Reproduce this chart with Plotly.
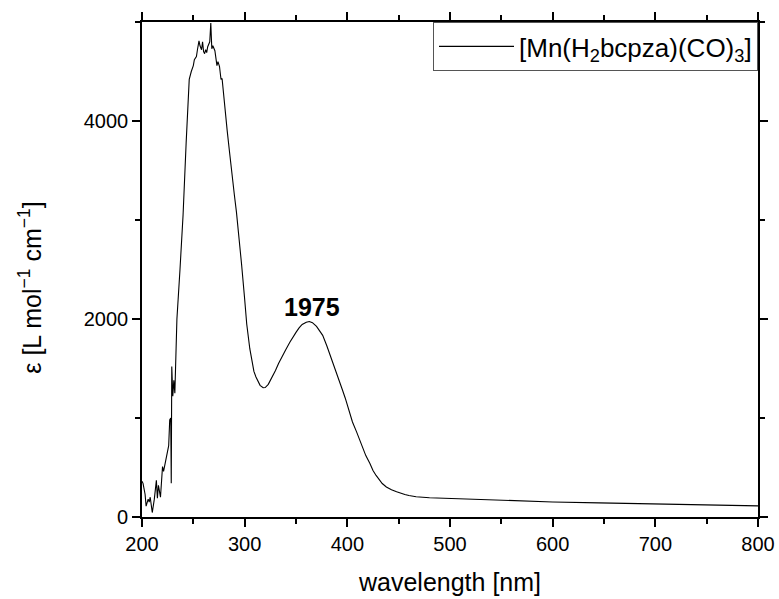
import plotly.graph_objects as go

wavelength = [200, 201, 203, 204, 206, 207, 208, 210, 212, 214, 215, 216, 218, 220, 221, 223, 224, 226, 227, 228,
              228.5, 229, 230, 231, 232, 234, 237, 240, 243, 246, 248, 250, 251, 253, 254, 255.5, 256.5, 258, 259,
              260, 261, 262, 263, 264, 266, 267, 268, 269, 271, 272, 273, 274, 275.5, 276.5, 277, 278, 280, 283,
              285, 287, 290, 292, 295, 297, 300, 302, 305, 307, 309, 311, 313, 315, 318, 320, 323, 327, 330, 333,
              336, 340, 344, 347, 350, 353, 356, 360, 363, 366, 370, 373, 376, 380, 385, 388, 392, 395, 398, 402,
              405, 409, 412, 415, 418, 422, 425, 428, 431, 434, 438, 443, 448, 452, 456, 460, 467, 480, 496, 520,
              550, 600, 645, 700, 750, 800]
epsilon = [360, 340, 230, 110, 180, 150, 200, 45, 180, 370, 190, 320, 200, 510, 460, 580, 620, 720, 980, 1000,
           340, 1520, 1220, 1380, 1250, 2000, 2500, 3050, 3780, 4420, 4500, 4560, 4620, 4650, 4720, 4810, 4760, 4720, 4800,
           4700, 4680, 4720, 4690, 4750, 4800, 4990, 4730, 4760, 4710, 4640, 4560, 4600, 4550, 4460, 4420, 4430, 4190, 3900,
           3710, 3500, 3250, 3080, 2800, 2550, 2200, 1950, 1700, 1560, 1470, 1415, 1365, 1330, 1306, 1308, 1340, 1417, 1480, 1550,
           1615, 1690, 1765, 1820, 1865, 1910, 1945, 1968, 1975, 1963, 1925, 1880, 1835, 1730, 1590, 1490, 1384, 1290, 1200, 1047,
           960, 860, 778, 705, 620, 540, 470, 420, 374, 338, 303, 275, 256, 240, 228, 218, 205, 195, 189, 178,
           165, 152, 143, 130, 120, 112]

series_name = "[Mn(H<sub>2</sub>bcpza)(CO)<sub>3</sub>]"
y_title = "ε [L mol<sup>−1</sup> cm<sup>−1</sup>]"
x_title = "wavelength [nm]"
peak_label = "1975"
peak_pos = (366, 2125)

FONT = "Arial, Liberation Sans, sans-serif"

fig = go.Figure()
fig.add_trace(go.Scatter(x=wavelength, y=epsilon, mode="lines", name=series_name,
                         line=dict(color="black", width=1.1)))

fig.add_annotation(x=peak_pos[0], y=peak_pos[1], text="<b>" + peak_label + "</b>", showarrow=False,
                   font=dict(family=FONT, size=25, color="black"))

# y-axis title placed as rotated text
fig.add_annotation(xref="paper", yref="paper", x=-0.182, y=0.463, text=y_title, textangle=-90,
                   showarrow=False, xanchor="center", yanchor="middle",
                   font=dict(family=FONT, size=25, color="black"))

axis_common = dict(showline=True, linecolor="black", linewidth=1.6, mirror="ticks", ticks="outside",
                   ticklen=8, tickwidth=1.6, tickcolor="black", showgrid=False, zeroline=False,
                   tickfont=dict(family=FONT, size=20, color="black"))

fig.update_xaxes(range=[200, 800], dtick=100, tick0=200,
                 minor=dict(ticks="outside", dtick=50, ticklen=5, tickwidth=1.6, tickcolor="black"),
                 title=dict(text=x_title, font=dict(family=FONT, size=25, color="black"), standoff=20),
                 **axis_common)
fig.update_yaxes(range=[0, 5000], dtick=2000, tick0=0,
                 minor=dict(ticks="outside", dtick=1000, ticklen=5, tickwidth=1.6, tickcolor="black"),
                 **axis_common)

fig.update_layout(
    width=779, height=599,
    margin=dict(l=142, r=21, t=22, b=82, autoexpand=False),
    paper_bgcolor="white", plot_bgcolor="white",
    showlegend=True,
    legend=dict(x=1, y=1, xanchor="right", yanchor="top", bgcolor="white",
                bordercolor="#555", borderwidth=1, itemwidth=75,
                font=dict(family=FONT, size=26, color="black")),
)

fig.write_html("out.html")
